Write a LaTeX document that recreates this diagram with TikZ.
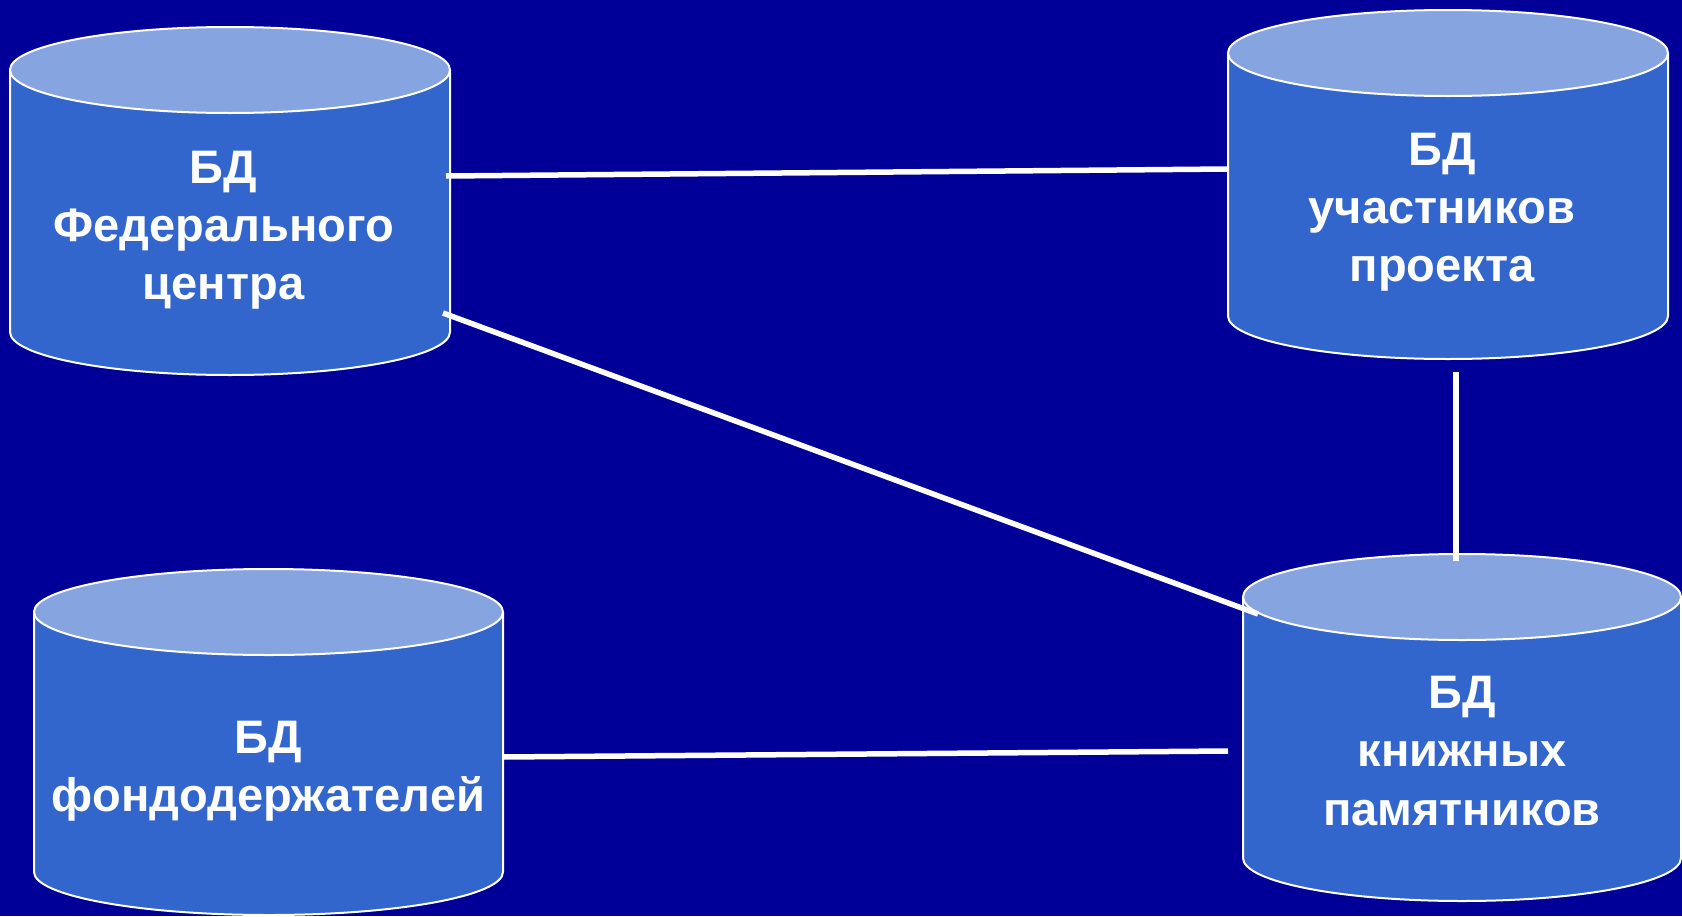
\documentclass[tikz,border=0pt]{standalone}
\usepackage{fontspec}
\setmainfont{Liberation Sans}
\definecolor{bgblue}{HTML}{000099}
\definecolor{bodyblue}{HTML}{3366CC}
\definecolor{topblue}{HTML}{86A4DF}
\tikzset{
  cyledge/.style={draw=white, line width=2pt},
  link/.style={draw=white, line width=5.5pt},
  dbtext/.style={text=white, align=center, inner sep=0pt},
}
\newcommand\drawcyl[5]{%
  \pgfmathsetmacro\cylrx{(#2-#1)/2}%
  \pgfmathsetmacro\cylcx{(#1+#2)/2}%
  \fill[bodyblue] (#1,#3) -- (#1,#4) arc[start angle=180,end angle=360,x radius=\cylrx pt,y radius=#5 pt] -- (#2,#3) -- cycle;
  \draw[cyledge] (#1,#3) -- (#1,#4) arc[start angle=180,end angle=360,x radius=\cylrx pt,y radius=#5 pt] -- (#2,#3);
  \filldraw[cyledge, fill=topblue] (\cylcx,#3) ellipse [x radius=\cylrx pt, y radius=#5 pt];
}
\begin{document}
\begin{tikzpicture}[x=1pt,y=-1pt]
\useasboundingbox (0,0) rectangle (1682,916);
\fill[bgblue] (0,0) rectangle (1682,916);

% cylinders
\drawcyl{10}{450}{70}{332}{43}
\drawcyl{1228}{1668}{53}{316}{43}
\drawcyl{34}{503}{612}{872}{43}
\drawcyl{1243}{1681}{597}{858}{43}

% labels
\node[dbtext, font=\fontsize{47}{58}\selectfont\bfseries] (c1) at (223.5,230) {БД\\Федерального\\центра};
\node[dbtext, font=\fontsize{47}{58}\selectfont\bfseries] (c2) at (1442,212) {БД\\участников\\проекта};
\node[dbtext, font=\fontsize{47}{58}\selectfont\bfseries] (c3) at (268.5,771.5) {БД\\фондодержателей};
\node[dbtext, font=\fontsize{47}{58.5}\selectfont\bfseries] (c4) at (1462,751) {БД\\книжных\\памятников};

% connector ends
\coordinate (c1e) at (446,176);
\coordinate (c2w) at (1228,169);
\coordinate (c1se) at (443,313);
\coordinate (c4nw) at (1258,614);
\coordinate (c2s) at (1456,372);
\coordinate (c4n) at (1456,561);
\coordinate (c3e) at (503,757);
\coordinate (c4w) at (1228,751);

\draw[link] (c1e) -- (c2w);
\draw[link] (c1se) -- (c4nw);
\draw[link] (c2s) -- (c4n);
\draw[link] (c3e) -- (c4w);
\end{tikzpicture}
\end{document}
